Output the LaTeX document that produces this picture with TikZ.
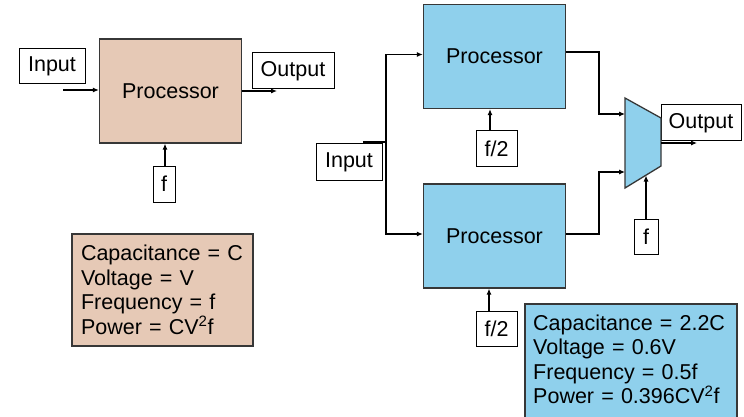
\documentclass[tikz,border=0pt]{standalone}
\usepackage{fontspec}
\setmainfont{Liberation Sans}
\usetikzlibrary{arrows.meta}
\definecolor{procpeach}{RGB}{230,201,182}
\definecolor{procblue}{RGB}{143,208,236}
\definecolor{edgegray}{RGB}{55,55,55}
\tikzset{
  lbl/.style={draw=black, line width=1pt, fill=white, inner sep=0pt},
  proc/.style={draw=edgegray, line width=1.3pt, inner sep=0pt, minimum width=142pt, minimum height=104pt},
  param/.style={align=left, inner xsep=9pt, inner ysep=0pt},
  wire/.style={line width=1.1pt},
  arr/.style={-{Latex[length=6pt,width=5pt]}}
}
\begin{document}
\begin{tikzpicture}[x=1pt, y=-1pt, font=\fontsize{21.5}{24.5}\selectfont]
\useasboundingbox (0,0) rectangle (744,417);

\node[proc, fill=procpeach] (procL) at (170.5,91) {Processor};
\node[lbl, minimum width=66pt, minimum height=35pt] (inL) at (52,66.5) {Input};
\node[lbl, minimum width=82pt, minimum height=36pt] (outL) at (293,71) {Output};
\node[lbl, minimum width=22pt, minimum height=36pt] (fL) at (164,184) {f};
\node[draw=edgegray, line width=1.3pt, fill=procpeach, param, text width=163pt, inner ysep=11.5pt] (paramA) at (162.5,290)
  {Capacitance = C\\Voltage = V\\Frequency = f\\Power = CV\textsuperscript{2}f};

\coordinate (inLend) at (63,90);
\coordinate (outLend) at (277,91);
\draw[wire, arr] (inLend) -- (procL.west |- inLend);
\draw[wire, arr] (procL.east) -- (outLend);
\draw[wire, arr] ([xshift=1pt]fL.north) -- ([xshift=-5.5pt]procL.south);

\node[proc, fill=procblue] (procT) at (494.5,56.5) {Processor};
\node[proc, fill=procblue] (procB) at (494.5,236) {Processor};
\node[lbl, minimum width=66pt, minimum height=36pt] (inR) at (349,162) {Input};
\node[lbl, minimum width=41pt, minimum height=35pt] (fT) at (496.5,148.5) {f/2};
\node[lbl, minimum width=41pt, minimum height=35pt] (fB) at (496.5,328.5) {f/2};
\node[lbl, minimum width=80pt, minimum height=36pt] (outR) at (701,123) {Output};
\node[lbl, minimum width=24pt, minimum height=35pt] (fR) at (646,236.5) {f};

\filldraw[fill=procblue, draw=edgegray, line width=1.3pt] (625,98) -- (661,118) -- (661,166) -- (625,188) -- cycle;
\coordinate (muxA) at (625,114);
\coordinate (muxB) at (625,172);
\coordinate (muxOut) at (661,143);
\coordinate (muxSel) at (646,175.5);
\coordinate (outRend) at (697,143);

\fill[procblue, draw=edgegray, line width=1.3pt] (525,304) rectangle (737,440);
\node[param, inner xsep=0pt, text width=196pt, anchor=north west] (paramB) at (533,314.5)
  {Capacitance = 2.2C\\Voltage = 0.6V\\Frequency = 0.5f\\Power = 0.396CV\textsuperscript{2}f};

\coordinate (inRend) at (363,142);
\coordinate (split) at (386,142);
\draw[wire] (inRend) -- (split);
\draw[wire, arr] (split) |- ([yshift=2pt]procT.west);
\draw[wire, arr] (split) |- ([yshift=2pt]procB.west);
\draw[wire, arr] ([xshift=-6.5pt]fT.north) -- ([xshift=-4.5pt]procT.south);
\draw[wire, arr] ([xshift=-7.5pt]fB.north) -- ([xshift=-5.5pt]procB.south);
\draw[wire, arr] ([yshift=4.5pt]procT.east) -| (599,114) -- (muxA);
\draw[wire, arr] ([yshift=2pt]procB.east) -| (599,172) -- (muxB);
\draw[wire, arr] (muxOut) -- (outRend);
\draw[wire, arr] (fR.north) -- (muxSel);
\end{tikzpicture}
\end{document}
